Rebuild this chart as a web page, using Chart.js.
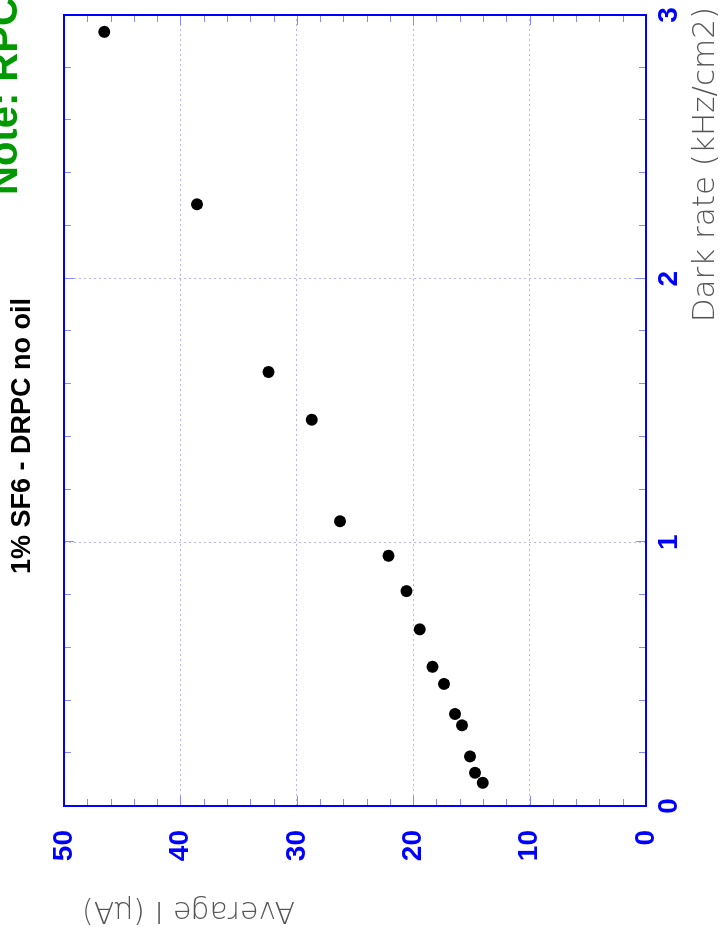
<!DOCTYPE html>
<html>
<head>
<meta charset="utf-8">
<title>1% SF6 - DRPC no oil</title>
<script src="https://cdn.jsdelivr.net/npm/chart.js@4.4.0/dist/chart.umd.min.js"></script>
<style>
    html, body { margin: 0; padding: 0; background: #fff; overflow: hidden; }
    /* the plot is drawn landscape and turned a quarter turn, like the scan */
    #wrap {
        position: absolute; left: 0; top: 0;
        width: 935px; height: 725px;
        transform-origin: 0 0;
        transform: translateY(935px) rotate(-90deg);
    }
</style>
</head>
<body>
<div id="wrap"><canvas id="chart" width="935" height="725"></canvas></div>
<script>
// Values
const darkRate   = [2.936, 2.282, 1.646, 1.465, 1.080, 0.949, 0.815, 0.670, 0.528, 0.463, 0.349, 0.306, 0.188, 0.126, 0.088];
const avgCurrent = [46.54, 38.58, 32.43, 28.71, 26.28, 22.12, 20.58, 19.44, 18.35, 17.36, 16.41, 15.81, 15.12, 14.70, 14.03];

const rateTicks    = [0, 1, 2, 3];
const currentTicks = [0, 10, 20, 30, 40, 50];

const titleText = '1% SF6 - DRPC no oil';
const noteText  = 'Note: RPC';
const xTitle    = 'Dark rate (kHz/cm2)';
const yTitle    = 'Average I (μA)';

const BLUE = '#0000ff';
const GRID = '#b4b4ff';
const TICK = '#8888ff';

// Frame, inward ticks and the text around the plot
const framePlugin = {
    id: 'frame',
    afterDraw(chart) {
        const { ctx, chartArea: a, scales: { x, y } } = chart;
        ctx.save();

        // small ticks, inward, on all four sides
        ctx.strokeStyle = TICK;
        ctx.lineWidth = 1;
        ctx.beginPath();
        for (let i = 0; i <= 15; i++) {
            const px = Math.round(x.getPixelForValue(i * 0.2)) + 0.5;
            const len = i % 5 === 0 ? 10 : 7;
            ctx.moveTo(px, a.bottom); ctx.lineTo(px, a.bottom - len);
            ctx.moveTo(px, a.top);    ctx.lineTo(px, a.top + len);
        }
        for (let i = 0; i <= 25; i++) {
            const py = Math.round(y.getPixelForValue(i * 2)) + 0.5;
            const len = i % 5 === 0 ? 10 : 7;
            ctx.moveTo(a.left, py);  ctx.lineTo(a.left + len, py);
            ctx.moveTo(a.right, py); ctx.lineTo(a.right - len, py);
        }
        ctx.stroke();

        // blue box
        ctx.strokeStyle = BLUE;
        ctx.lineWidth = 2;
        ctx.strokeRect(a.left, a.top, a.right - a.left, a.bottom - a.top);

        // title
        ctx.fillStyle = '#000';
        ctx.font = 'bold 27px "Liberation Sans", Arial, sans-serif';
        ctx.textAlign = 'center';
        ctx.textBaseline = 'middle';
        ctx.fillText(titleText, 499, 23);

        // green note, cut at the edge
        ctx.fillStyle = '#009900';
        ctx.font = 'bold 40px "Liberation Sans", Arial, sans-serif';
        ctx.textAlign = 'left';
        ctx.textBaseline = 'alphabetic';
        ctx.fillText(noteText, 740, 17);

        // axis titles
        ctx.fillStyle = '#555';
        ctx.font = '200 31px "DejaVu Sans", sans-serif';
        ctx.textAlign = 'right';
        ctx.textBaseline = 'middle';
        ctx.fillText(xTitle, 928, 706);

        ctx.save();
        ctx.translate(25, 82);
        ctx.rotate(-Math.PI / 2);
        ctx.font = '200 30px "DejaVu Sans", sans-serif';
        ctx.textAlign = 'right';
        ctx.fillText(yTitle, 0, 0);
        ctx.restore();

        ctx.restore();
    }
};

const tickFont = { family: '"Liberation Sans", Arial, sans-serif', size: 28, weight: 'bold' };

new Chart(document.getElementById('chart'), {
    type: 'scatter',
    data: {
        datasets: [{
            data: darkRate.map((r, i) => ({ x: r, y: avgCurrent[i] })),
            backgroundColor: '#000',
            borderWidth: 0,
            pointRadius: 6
        }]
    },
    options: {
        responsive: false,
        devicePixelRatio: 1,
        animation: false,
        events: [],
        layout: { padding: { top: 64, right: 15, left: 0, bottom: 0 } },
        plugins: {
            legend: { display: false },
            tooltip: { enabled: false }
        },
        scales: {
            x: {
                type: 'linear',
                min: 0,
                max: 3,
                afterBuildTicks: s => { s.ticks = rateTicks.map(v => ({ value: v })); },
                afterFit: s => { s.height = 79; },
                ticks: { color: BLUE, font: tickFont, padding: 6, maxRotation: 0 },
                grid: { color: GRID, lineWidth: 1, drawTicks: false },
                border: { display: false, dash: [2, 3] }
            },
            y: {
                type: 'linear',
                min: 0,
                max: 50,
                afterBuildTicks: s => { s.ticks = currentTicks.map(v => ({ value: v })); },
                afterFit: s => { s.width = 129; },
                ticks: { color: BLUE, font: tickFont, padding: 24 },
                grid: { color: GRID, lineWidth: 1, drawTicks: false },
                border: { display: false, dash: [2, 3] }
            }
        }
    },
    plugins: [framePlugin]
});
</script>
</body>
</html>
